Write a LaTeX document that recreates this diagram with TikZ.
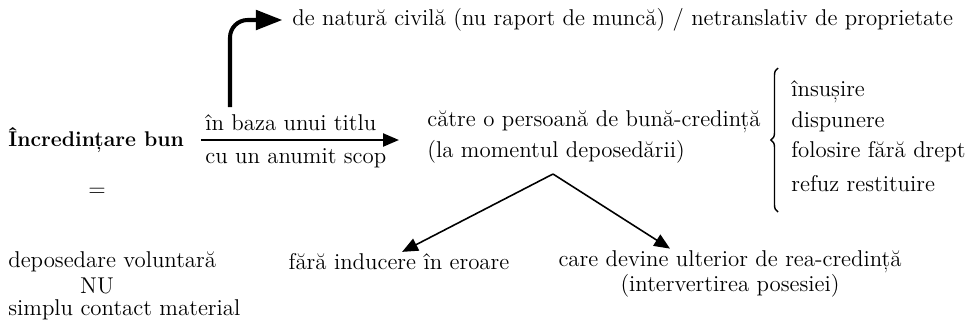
\documentclass[tikz,border=0pt]{standalone}
\usepackage{tikz}
\usetikzlibrary{arrows.meta,calc,decorations.pathreplacing}

\tikzset{
  thinarrow/.style={line width=0.9pt,-{Triangle[length=9pt,width=7.5pt]}},
  thickarrow/.style={line width=2.3pt,rounded corners=10pt,-{Triangle[length=15pt,width=11pt]}},
}

\begin{document}
\begin{tikzpicture}[scale=0.2,font=\fontsize{13}{16}\selectfont]
\tikzstyle{every node}+=[inner sep=0pt]
\useasboundingbox (0,0) rectangle (97.4,-33.2);
% main line
\node (inc) [anchor=west,font=\fontsize{12.1}{15}\selectfont\bfseries] at (0.8,-14.0) {Încredințare bun};
\node (titlu) [anchor=west] at (20.5,-12.3) {în baza unui titlu};
\node (scop) [anchor=west] at (20.5,-15.8) {cu un anumit scop};
\node (cat1) [anchor=west] at (42.7,-12.2) {către o persoană de bună-credință};
\node (cat2) [anchor=west] at (42.7,-15.2) {(la momentul deposedării)};
\draw [thinarrow,shorten <=9.5pt,shorten >=16pt] (inc.east) -- (inc.east -| cat1.west);
% upper branch
\node (civ) [anchor=west] at (29.2,-2.0) {de natură civilă (nu raport de muncă) / netranslativ de proprietate};
\coordinate (up) at (23.0,-10.7);
\draw [thickarrow,shorten >=5.5pt] (up) |- (civ.west);
% actions
\draw [line width=0.8pt,decorate,decoration={brace,amplitude=4pt}] (77.8,-21.2) -- (77.8,-6.8);
\node (a1) [anchor=west] at (79.1,-9.2) {însușire};
\node (a2) [anchor=west] at (79.1,-12.2) {dispunere};
\node (a3) [anchor=west] at (79.1,-15.2) {folosire fără drept};
\node (a4) [anchor=west] at (79.1,-18.4) {refuz restituire};
% left column
\node (eq) at (9.7,-19.2) {=};
\node (dep) [anchor=west] at (0.8,-26.2) {deposedare voluntară};
\node (nu) at (9.7,-28.6) {NU};
\node (simplu) [anchor=west] at (0.8,-31.0) {simplu contact material};
% two cases
\node (fara) at (39.9,-26.2) {fără inducere în eroare};
\node (care1) at (73.0,-26.2) {care devine ulterior de rea-credință};
\node (care2) at (73.0,-28.6) {(intervertirea posesiei)};
\coordinate (apx) at (55.3,-17.4);
\draw [thinarrow,shorten >=2pt] (apx) -- (fara.north);
\draw [thinarrow,shorten >=2pt] (apx) -- ($(care1.north)+(-5.7,0)$);
\end{tikzpicture}
\end{document}
